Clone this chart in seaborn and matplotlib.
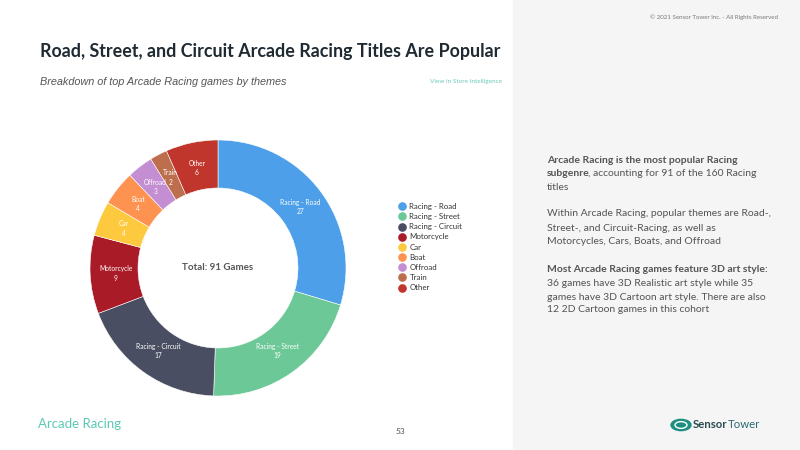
import numpy as np
import matplotlib
matplotlib.use("Agg")
import matplotlib.pyplot as plt
import seaborn as sns
from matplotlib.lines import Line2D
from matplotlib.patches import Rectangle, Circle

# data
themes = ["Racing - Road", "Racing - Street", "Racing - Circuit", "Motorcycle",
          "Car", "Boat", "Offroad", "Train", "Other"]
games = [27, 19, 17, 9, 4, 4, 3, 2, 6]
theme_colors = ["#4c9fe8", "#6cc997", "#4a4e62", "#a91b27", "#fdc93f",
                "#fe9250", "#c48ed3", "#bd6e4d", "#c0362c"]

sns.set_style("white")
plt.rcParams["font.family"] = ["Lato", "DejaVu Sans"]
pal = sns.color_palette(theme_colors)

fig = plt.figure(figsize=(8, 4.5), dpi=100)
W, H = 800, 450

def fx(x):
    return x / W

def fy(y):
    return 1 - y / H

# grey side panel
fig.patches.append(Rectangle((fx(513), 0), 1 - fx(513), 1, transform=fig.transFigure,
                             color="#f5f5f5", zorder=0))

# donut
cx, cy, r = 218, 268, 128
ax = fig.add_axes([fx(cx - r), fy(cy + r), 2 * r / W, 2 * r / H])
wedges, _ = ax.pie(games, colors=pal, startangle=90, counterclock=False, radius=1,
                   wedgeprops=dict(width=0.375, edgecolor="white", linewidth=0.4))
ax.set_xlim(-1, 1)
ax.set_ylim(-1, 1)
ax.set_aspect("equal")
ax.axis("off")

total = sum(games)
for w, name, v in zip(wedges, themes, games):
    ang = np.deg2rad((w.theta1 + w.theta2) / 2)
    rr = 0.8
    ax.text(rr * np.cos(ang), rr * np.sin(ang), f"{name}\n{v}", ha="center", va="center",
            color="white", fontsize=4.8, linespacing=1.4)
ax.text(0, 0, f"Total: {total} Games", ha="center", va="center", fontsize=7.0,
        fontweight="bold", color="#555555")

# legend
handles = [Line2D([0], [0], marker="o", linestyle="", markersize=5.2,
                  markerfacecolor=c, markeredgecolor=c) for c in pal]
fig.legend(handles, themes, loc="upper left", bbox_to_anchor=(fx(394), fy(199)),
           frameon=False, fontsize=5.7, labelspacing=0.4, handletextpad=0.45,
           handlelength=1.0, borderpad=0, labelcolor="#333333")

# titles
fig.text(fx(40), fy(52), "Road, Street, and Circuit Arcade Racing Titles Are Popular",
         fontsize=12.9, fontweight="bold", color="#1f2a33", va="center")
fig.text(fx(40), fy(82), "Breakdown of top Arcade Racing games by themes",
         fontsize=7.8, style="italic", color="#555555", va="center",
         family="Liberation Sans")
fig.text(fx(502), fy(82), "View in Store Intelligence", fontsize=4.6,
         color="#6cc9b8", ha="right", va="center")
fig.text(fx(778), fy(17), "\u00a9 2021 Sensor Tower Inc. - All Rights Reserved",
         fontsize=4.4, color="#777777", ha="right", va="center")

# side text
tcol = "#555555"
lines = [
    (158, [("Arcade Racing is the most popular Racing", "bold")]),
    (172, [("subgenre", "bold"), (", accounting for 91 of the 160 Racing", "normal")]),
    (185, [("titles", "normal")]),
    (212, [("Within Arcade Racing, popular themes are Road-,", "normal")]),
    (226, [("Street-, and Circuit-Racing, as well as", "normal")]),
    (240, [("Motorcycles, Cars, Boats, and Offroad", "normal")]),
    (267, [("Most Arcade Racing games feature 3D art style:", "bold")]),
    (281, [("36 games have 3D Realistic art style while 35", "normal")]),
    (295, [("games have 3D Cartoon art style. There are also", "normal")]),
    (308, [("12 2D Cartoon games in this cohort", "normal")]),
]
renderer = fig.canvas.get_renderer()
for y, parts in lines:
    x = 547
    for s, wt in parts:
        t = fig.text(fx(x), fy(y + 2), s, fontsize=7.5, fontweight=wt, color=tcol,
                     va="center")
        bb = t.get_window_extent(renderer=renderer)
        x += bb.width - 2

# footer
fig.text(fx(38), fy(424), "Arcade Racing", fontsize=9.5, color="#5cc8b4", va="center")
fig.text(fx(400), fy(432), "53", fontsize=6, color="#555555", ha="center", va="center")
fig.patches.append(Circle((fx(681), fy(425)), 10 / W, transform=fig.transFigure,
                          color="#1d8f80", zorder=2))
fig.patches.append(Circle((fx(681), fy(425)), 6 / W, transform=fig.transFigure,
                          facecolor="none", edgecolor="white", linewidth=1.0, zorder=3))
t = fig.text(fx(693), fy(425), "Sensor", fontsize=8.2, fontweight="bold",
             color="#2a4a50", va="center")
bb = t.get_window_extent(renderer=renderer)
fig.text(fx(693) + bb.width / W, fy(425), "Tower", fontsize=8.2, color="#2a6a70",
         va="center")

fig.savefig("out.png", dpi=100)
